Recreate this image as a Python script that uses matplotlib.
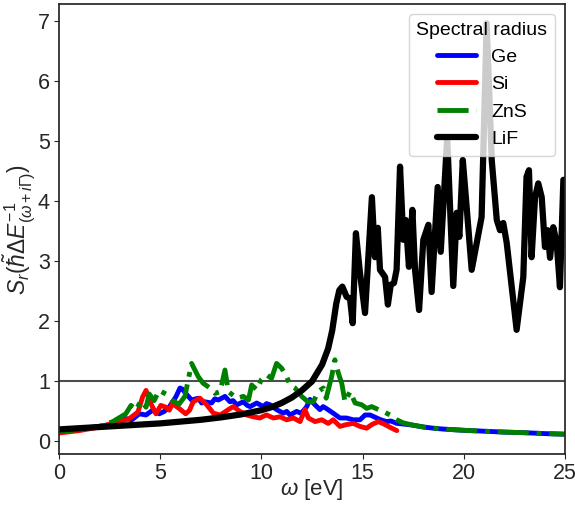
import matplotlib
matplotlib.use("Agg")
import matplotlib.pyplot as plt

plt.rcParams['font.family'] = ['Liberation Sans', 'DejaVu Sans']
plt.rcParams['mathtext.fontset'] = 'custom'
plt.rcParams['mathtext.rm'] = 'Liberation Sans'
plt.rcParams['mathtext.it'] = 'Liberation Sans:italic'
plt.rcParams['mathtext.bf'] = 'Liberation Sans:bold'

# common high-energy tail (Ge and ZnS converge)
tail_w = [17.5, 18.0, 18.5, 19.0, 20.0, 21.0, 22.0, 23.0, 24.0, 25.0]
tail_s = [0.27, 0.24, 0.22, 0.205, 0.185, 0.17, 0.155, 0.145, 0.13, 0.12]

# Ge
ge_w = [0.0, 1.0, 2.0, 2.5, 3.0, 3.3, 3.6, 3.97, 4.3, 4.62, 4.95, 5.2, 5.44, 5.77, 5.98, 6.1,
        6.31, 6.55, 6.88, 7.05, 7.21, 7.54, 7.7, 7.87, 8.2, 8.45, 8.6, 8.78, 9.11, 9.3,
        9.44, 9.77, 10.1, 10.25, 10.43, 10.75, 11.08, 11.25, 11.41, 11.74, 11.95, 12.1,
        12.24, 12.4, 12.65, 12.89, 13.05, 13.2, 13.55, 13.88, 14.2, 14.54, 14.87, 15.0,
        15.12, 15.37, 15.7, 15.9, 16.19, 16.4, 16.69, 17.0]
ge_s = [0.17, 0.21, 0.25, 0.28, 0.33, 0.38, 0.36, 0.46, 0.44, 0.52, 0.46, 0.50, 0.57, 0.74,
        0.89, 0.87, 0.78, 0.69, 0.72, 0.64, 0.66, 0.64, 0.71, 0.69, 0.75, 0.66, 0.68, 0.61,
        0.66, 0.60, 0.58, 0.64, 0.58, 0.63, 0.61, 0.53, 0.47, 0.50, 0.44, 0.50, 0.47,
        0.52, 0.58, 0.70, 0.61, 0.53, 0.58, 0.55, 0.47, 0.39, 0.39, 0.36, 0.36, 0.40,
        0.44, 0.44, 0.39, 0.36, 0.33, 0.34, 0.30, 0.29]

# Si
si_w = [0.0, 1.0, 2.0, 2.98, 3.48, 3.9, 4.13, 4.3, 4.54, 4.79, 5.03, 5.28, 5.45, 5.6, 5.93,
        6.26, 6.45, 6.63, 6.96, 7.3, 7.63, 7.96, 8.15, 8.37, 8.61, 8.94, 9.27, 9.6, 9.93,
        10.1, 10.26, 10.59, 10.92, 11.25, 11.58, 11.91, 12.15, 12.32, 12.65, 12.98, 13.3,
        13.55, 13.88, 14.2, 14.54, 14.87, 15.2, 15.45, 15.78, 16.11, 16.44, 16.69]
si_s = [0.14, 0.18, 0.24, 0.33, 0.38, 0.49, 0.74, 0.85, 0.63, 0.46, 0.60, 0.57, 0.52, 0.63,
        0.55, 0.46, 0.52, 0.66, 0.72, 0.61, 0.47, 0.44, 0.48, 0.53, 0.58, 0.50, 0.44, 0.41,
        0.39, 0.42, 0.44, 0.39, 0.41, 0.36, 0.39, 0.33, 0.53, 0.39, 0.33, 0.36, 0.30,
        0.36, 0.25, 0.28, 0.30, 0.25, 0.22, 0.28, 0.33, 0.28, 0.22, 0.18]

# ZnS
zns_w = [0.0, 1.0, 2.0, 2.66, 3.3, 3.56, 3.8, 4.05, 4.3, 4.46, 4.7, 4.95, 5.28, 5.6, 5.93,
         6.22, 6.55, 6.88, 7.12, 7.46, 7.71, 7.96, 8.2, 8.37, 8.78, 9.11, 9.36, 9.52,
         9.77, 10.0, 10.26, 10.5, 10.75, 11.0, 11.25, 11.41, 11.66, 11.99, 12.3, 12.57,
         12.8, 13.06, 13.2, 13.47, 13.63, 13.8, 13.97, 14.13, 14.38, 14.63, 14.96, 15.2,
         15.45, 15.78, 16.0, 16.36, 16.69, 17.0]
zns_s = [0.16, 0.20, 0.25, 0.33, 0.46, 0.60, 0.52, 0.68, 0.57, 0.79, 0.68, 0.85, 0.79, 0.68, 0.62,
         0.75, 1.30, 1.08, 0.97, 0.89, 0.80, 0.83, 1.19, 0.83, 0.72, 0.75, 0.69, 0.94,
         0.86, 1.03, 1.11, 1.05, 1.30, 1.22, 1.08, 0.94, 0.89, 0.75, 0.66, 0.66,
         0.83, 0.89, 0.72, 1.08, 1.36, 1.14, 0.97, 0.66, 0.83, 0.64, 0.61, 0.55,
         0.58, 0.53, 0.50, 0.44, 0.36, 0.31]

# LiF
lif_w = [0.0, 1.0, 2.0, 3.0, 4.0, 5.0, 6.0, 7.0, 8.0, 9.0, 10.0, 10.5, 11.0, 11.5, 12.0,
         12.5, 13.0, 13.3, 13.5, 13.7, 13.85, 14.0, 14.21, 14.38, 14.51, 14.67, 14.87,
         15.12, 15.46, 15.61, 15.75, 15.86, 16.11, 16.25, 16.39, 16.55, 16.68, 16.85,
         17.01, 17.13, 17.29, 17.46, 17.59, 17.79, 18.0, 18.25, 18.41, 18.71, 18.86,
         19.18, 19.48, 19.65, 19.78, 19.95, 20.14, 20.39, 20.64, 20.88, 21.13, 21.38,
         21.63, 21.79, 21.95, 22.12, 22.61, 22.94, 23.1, 23.22, 23.35, 23.52, 23.68,
         23.85, 24.01, 24.14, 24.26, 24.42, 24.59, 24.75, 24.92, 25.0]
lif_s = [0.20, 0.22, 0.24, 0.26, 0.28, 0.30, 0.33, 0.36, 0.40, 0.45, 0.52, 0.57, 0.64, 0.73, 0.85,
         1.00, 1.28, 1.55, 1.85, 2.30, 2.52, 2.58, 2.41, 2.38, 1.97, 3.47, 2.81,
         2.14, 4.07, 3.07, 3.56, 2.86, 2.74, 2.28, 2.61, 2.64, 2.86, 4.58,
         3.36, 3.69, 2.91, 3.86, 2.86, 2.19, 3.36, 3.61, 2.49, 4.24, 3.16,
         5.07, 2.59, 3.81, 3.41, 4.69, 3.91, 2.86, 3.31, 3.74, 6.97, 4.69,
         3.69, 3.52, 3.64, 3.31, 1.86, 2.74, 4.41, 4.52, 3.07, 4.07, 4.30,
         4.07, 3.24, 3.52, 3.06, 3.57, 3.31, 2.57, 4.36, 4.36]

fig = plt.figure(figsize=(5.75, 5.08), dpi=100)
ax = fig.add_axes([0.1026, 0.1063, 0.88, 0.8858])

ax.axhline(1.0, color='0.3', lw=1.5)
ax.plot(ge_w + tail_w, ge_s + tail_s, color='blue', lw=3.5, label='Ge',
        solid_capstyle='round')
ax.plot(si_w, si_s, color='red', lw=3.5, label='Si', solid_capstyle='round')
ax.plot(zns_w + tail_w, zns_s + tail_s, color='green', lw=3.5, ls='-.', label='ZnS')
ax.plot(lif_w, lif_s, color='black', lw=4.5, label='LiF', solid_capstyle='round')

ax.set_xlim(0, 25)
ax.set_ylim(-0.21, 7.29)
ax.set_xticks([0, 5, 10, 15, 20, 25])
ax.set_yticks(range(8))
ax.tick_params(labelsize=15.5, colors='0.15', pad=3)
for s in ax.spines.values():
    s.set_color('0.15')
    s.set_linewidth(1.25)

ax.set_xlabel(r'$\omega$ [eV]', fontsize=16, color='0.15')
ax.xaxis.set_label_coords(0.5, -0.052)
ax.set_ylabel(r'$S_r(\tilde{\hbar}\Delta E^{-1}_{(\omega+i\Gamma)})$', fontsize=16.5,
              color='0.15')
ax.yaxis.set_label_coords(-0.043, 0.5)

leg = ax.legend(title='Spectral radius', loc='upper right', fontsize=14,
                title_fontsize=14)

fig.savefig('out.png', dpi=100)
